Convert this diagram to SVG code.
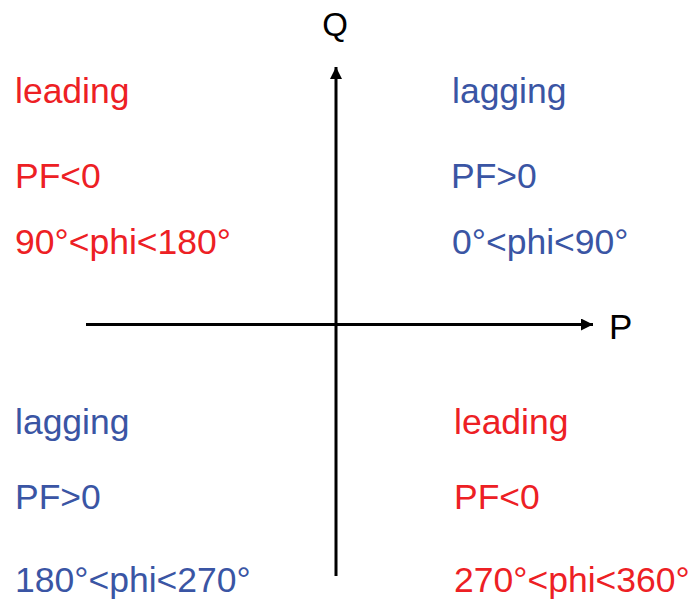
<svg xmlns="http://www.w3.org/2000/svg" width="696" height="610" viewBox="0 0 696 610">
<style>
text{font-family:"Liberation Sans",Arial,sans-serif;font-size:35.5px}
.r{fill:#ED2024}
.b{fill:#3A55A4}
.k{fill:#000}
.ax{stroke:#000;stroke-width:3;fill:none}
</style>
<defs>
<marker id="ah" markerWidth="12" markerHeight="12" viewBox="0 0 12 12" refX="12" refY="6" orient="auto" markerUnits="userSpaceOnUse">
<path d="M0,0 L12,6 L0,12 Z" fill="#000"/>
</marker>
</defs>
<rect width="696" height="610" fill="#fff"/>
<g id="connectors">
<line class="ax" x1="86" y1="324.5" x2="593" y2="324.5" marker-end="url(#ah)"/>
<line class="ax" x1="336" y1="576" x2="336" y2="67" marker-end="url(#ah)"/>
</g>
<g id="axis-labels">
<text class="k" x="335" y="36" text-anchor="middle" style="font-size:33px">Q</text>
<text class="k" x="609" y="339" style="font-size:35px">P</text>
</g>
<g id="q2">
<text class="r" x="15" y="103">leading</text>
<text class="r" x="15" y="188">PF&lt;0</text>
<text class="r" x="15" y="254">90°&lt;phi&lt;180°</text>
</g>
<g id="q1">
<text class="b" x="452" y="103">lagging</text>
<text class="b" x="451" y="188">PF&gt;0</text>
<text class="b" x="452" y="254">0°&lt;phi&lt;90°</text>
</g>
<g id="q3">
<text class="b" x="15" y="434">lagging</text>
<text class="b" x="15" y="509">PF&gt;0</text>
<text class="b" x="15" y="592">180°&lt;phi&lt;270°</text>
</g>
<g id="q4">
<text class="r" x="454" y="434">leading</text>
<text class="r" x="454" y="509">PF&lt;0</text>
<text class="r" x="454" y="592">270°&lt;phi&lt;360°</text>
</g>
</svg>
